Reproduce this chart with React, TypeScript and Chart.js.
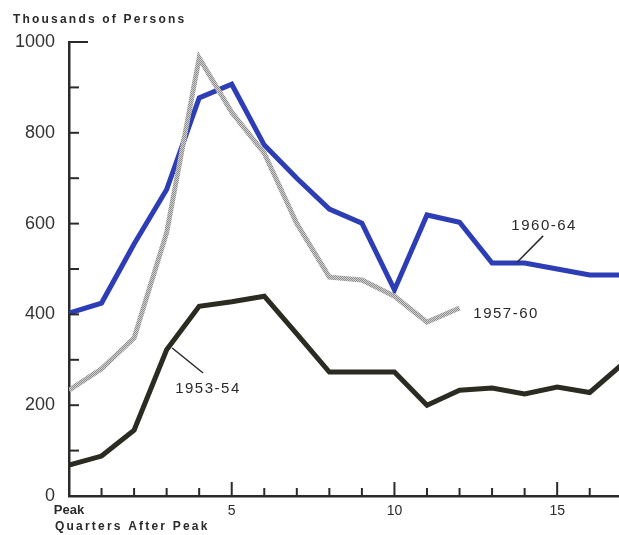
import React, { useEffect, useRef } from 'react';
import { Chart, registerables } from 'chart.js';
Chart.register(...registerables);

const quarters = [0, 1, 2, 3, 4, 5, 6, 7, 8, 9, 10, 11, 12, 13, 14, 15, 16, 17];
const series1960 = [403, 425, 555, 675, 877, 907, 773, 700, 632, 601, 454, 619, 603, 513, 513, 500, 487, 487];
const series1957 = [233, 280, 348, 580, 965, 845, 755, 600, 482, 476, 440, 383, 414];
const series1953 = [68, 88, 145, 322, 418, 428, 440, 357, 273, 273, 273, 200, 233, 238, 225, 240, 228, 290];

const yTitle = 'Thousands of Persons';
const xTitle = 'Quarters After Peak';

const noteTexts = ['1960-64', '1957-60', '1953-54'];
const noteX = [14.6, 13.43, 4.27];
const noteY = [595, 401, 236];
const leaderFrom = [[13.77, 515], null, [3.17, 326]];
const leaderTo = [[14.57, 573], null, [4.12, 271]];

const FONT = '"Liberation Sans", Arial, sans-serif';

function grayPattern(): CanvasPattern | string {
  const c = document.createElement('canvas');
  c.width = 4; c.height = 4;
  const g = c.getContext('2d');
  if (!g) return '#aaa';
  const cols = ['#8c8c8c', '#d2d2d2'];
  for (let i = 0; i < 4; i++) for (let j = 0; j < 4; j++) {
    g.fillStyle = cols[(i + j) % 2];
    g.fillRect(i, j, 1, 1);
  }
  return g.createPattern(c, 'repeat') || '#aaa';
}

const decorPlugin = {
  id: 'decor',
  afterDraw(chart: any) {
    const { ctx, chartArea, scales } = chart;
    const xs = scales.x, ys = scales.y;
    ctx.save();
    ctx.strokeStyle = '#2a2a2a';
    ctx.lineWidth = 2;
    for (let v = 100; v <= 1000; v += 100) {
      const py = ys.getPixelForValue(v);
      const len = v === 1000 ? 19 : 10;
      ctx.beginPath();
      ctx.moveTo(chartArea.left, py);
      ctx.lineTo(chartArea.left + len, py);
      ctx.stroke();
    }
    for (let q = 1; q <= 16; q++) {
      const px = xs.getPixelForValue(q);
      const len = q % 5 === 0 ? 14 : 8;
      ctx.beginPath();
      ctx.moveTo(px, chartArea.bottom);
      ctx.lineTo(px, chartArea.bottom - len);
      ctx.stroke();
    }
    ctx.fillStyle = '#2a2a2a';
    (ctx as any).letterSpacing = '2.2px';
    ctx.font = 'bold 12px ' + FONT;
    ctx.textAlign = 'left';
    ctx.textBaseline = 'middle';
    ctx.fillText(yTitle, 13, 20);
    ctx.fillText(xTitle, 55, 527);
    (ctx as any).letterSpacing = '1.5px';
    ctx.font = '15px ' + FONT;
    ctx.textAlign = 'center';
    for (let i = 0; i < noteTexts.length; i++) {
      ctx.fillText(noteTexts[i], xs.getPixelForValue(noteX[i]), ys.getPixelForValue(noteY[i]));
      const f = leaderFrom[i], t = leaderTo[i];
      if (f && t) {
        ctx.lineWidth = 1.5;
        ctx.beginPath();
        ctx.moveTo(xs.getPixelForValue(f[0]), ys.getPixelForValue(f[1]));
        ctx.lineTo(xs.getPixelForValue(t[0]), ys.getPixelForValue(t[1]));
        ctx.stroke();
      }
    }
    ctx.restore();
  },
};

export default function App() {
  const ref = useRef<HTMLCanvasElement>(null);
  useEffect(() => {
    document.body.style.margin = '0';
    if (!ref.current) return;
    const toPts = (arr: number[]) => arr.map((v, i) => ({ x: quarters[i], y: v }));
    const chart = new Chart(ref.current, {
      type: 'line',
      data: {
        datasets: [
          { label: '1953-54', data: toPts(series1953), borderColor: '#2b2b22', borderWidth: 5, pointRadius: 0, tension: 0 },
          { label: '1957-60', data: toPts(series1957), borderColor: grayPattern() as any, borderWidth: 5, pointRadius: 0, tension: 0 },
          { label: '1960-64', data: toPts(series1960), borderColor: '#2d3db5', borderWidth: 5, pointRadius: 0, tension: 0 },
        ],
      },
      options: {
        animation: false,
        responsive: true,
        maintainAspectRatio: false,
        layout: { padding: { top: 42, left: 0, right: 0, bottom: 0 } },
        plugins: { legend: { display: false }, tooltip: { enabled: false } },
        scales: {
          x: {
            type: 'linear',
            min: 0,
            max: 16.9,
            grid: { display: false, drawTicks: false, tickLength: 0 },
            border: { display: true, color: '#2a2a2a', width: 2.5 },
            afterFit: (s: any) => { s.height = 39; },
            afterBuildTicks: (s: any) => {
              s.ticks = quarters.filter((q) => q <= 16).map((q) => ({ value: q }));
            },
            ticks: {
              autoSkip: false,
              maxRotation: 0,
              padding: 7,
              color: '#2a2a2a',
              font: (c: any) => (c.tick && c.tick.value === 0 ? { family: FONT, size: 13, weight: 'bold' } : { family: FONT, size: 14 }),
              callback: (v: any) => (v === 0 ? 'Peak' : v % 5 === 0 ? String(v) : ''),
            },
          },
          y: {
            min: 0,
            max: 1000,
            grid: { display: false, drawTicks: false, tickLength: 0 },
            border: { display: true, color: '#2a2a2a', width: 2.5 },
            afterFit: (s: any) => { s.width = 69; },
            ticks: {
              stepSize: 100,
              padding: 14,
              color: '#333',
              font: { family: FONT, size: 18 },
              callback: (v: any) => (v % 200 === 0 ? String(v) : ''),
            },
          },
        },
      },
      plugins: [decorPlugin],
    });
    return () => chart.destroy();
  }, []);
  return (
    <div style={{ width: 619, height: 535, position: 'relative' }}>
      <canvas ref={ref} />
    </div>
  );
}
